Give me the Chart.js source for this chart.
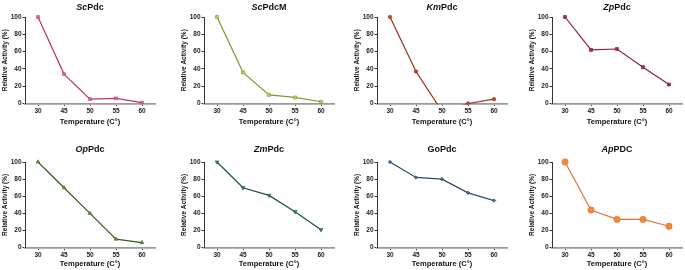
<!DOCTYPE html>
<html>
<head>
<meta charset="utf-8">
<script src="https://cdn.jsdelivr.net/npm/chart.js@4.4.1/dist/chart.umd.min.js"></script>
<style>
    html, body { margin: 0; padding: 0; background: #fff; }
    #wrap { position: relative; width: 685px; height: 270px; overflow: hidden; }
    .panel { position: absolute; }
    .ttl {
        position: absolute;
        width: 130px;
        text-align: center;
        font: bold 9px "Liberation Sans", Arial, sans-serif;
        color: #111;
        white-space: nowrap;
    }
</style>
</head>
<body>
<div id="wrap"></div>
<script>
// 温度类别（x 轴）
const temperatures = ['30', '45', '50', '55', '60'];
const yTicks = [0, 20, 40, 60, 80, 100];

// 各酶相对活性 (%)
const scPdc = [100, 34, 5, 6, 1];
const scPdcM = [100, 36, 10, 7, 2];
const kmPdc = [100, 37, -9, 0, 5];
const zpPdc = [100, 62, 63, 42, 22];
const opPdc = [100, 70, 40, 10, 6];
const zmPdc = [100, 70, 61, 42, 21];
const goPdc = [100, 82, 80, 64, 55];
const apPdc = [100, 44, 33, 33, 25];

// 面板布局与样式
const panels = [
    { title: '<i>Sc</i>Pdc', data: scPdc, axisX: 25, row: 0, line: '#b8336a', fill: '#e56aa0', style: 'rect', r: 2 },
    { title: '<i>Sc</i>PdcM', data: scPdcM, axisX: 204, row: 0, line: '#7d9a2e', fill: '#bccb5e', style: 'rect', r: 2.2 },
    { title: '<i>Km</i>Pdc', data: kmPdc, axisX: 377, row: 0, line: '#9b2f1c', fill: '#c8452a', style: 'circle', r: 1.8 },
    { title: '<i>Zp</i>Pdc', data: zpPdc, axisX: 552, row: 0, line: '#8a1f3f', fill: '#a8284f', style: 'rect', r: 2.2 },
    { title: '<i>Op</i>Pdc', data: opPdc, axisX: 25, row: 1, line: '#3d5a1e', fill: '#6f9a38', style: 'triangle', r: 2.2 },
    { title: '<i>Zm</i>Pdc', data: zmPdc, axisX: 204, row: 1, line: '#1f4f3f', fill: '#2f8a66', style: 'triangle', r: 2.2, rot: 180 },
    { title: 'GoPdc', data: goPdc, axisX: 377, row: 1, line: '#2d4a6b', fill: '#3e6c96', style: 'rectRot', r: 1.8 },
    { title: '<i>Ap</i>PDC', data: apPdc, axisX: 552, row: 1, line: '#e0733a', fill: '#f08a3a', style: 'circle', r: 3.2 }
];

const rows = [
    { top: 0, padTop: 17, height: 126, xh: 22.5, titleY: 2 },
    { top: 135, padTop: 27, height: 133, xh: 20.3, titleY: 144 }
];

const FONT = '"Liberation Sans", Arial, sans-serif';
const Y_W = 24;
const PLOT_W = 130;

const wrap = document.getElementById('wrap');

panels.forEach(function(p) {
    const row = rows[p.row];
    const box = document.createElement('div');
    box.className = 'panel';
    box.style.left = (p.axisX - Y_W) + 'px';
    box.style.top = row.top + 'px';
    box.style.width = (Y_W + PLOT_W + 6) + 'px';
    box.style.height = row.height + 'px';
    const canvas = document.createElement('canvas');
    box.appendChild(canvas);
    wrap.appendChild(box);

    const t = document.createElement('div');
    t.className = 'ttl';
    t.innerHTML = p.title;
    t.style.left = p.axisX + 'px';
    t.style.top = row.titleY + 'px';
    wrap.appendChild(t);

    new Chart(canvas, {
        type: 'line',
        data: {
            labels: temperatures,
            datasets: [{
                data: p.data,
                borderColor: p.line,
                borderWidth: 1.2,
                backgroundColor: p.fill,
                pointBackgroundColor: p.fill,
                pointBorderColor: p.line,
                pointBorderWidth: 0.6,
                pointStyle: p.style,
                pointRotation: p.rot || 0,
                pointRadius: p.r,
                tension: 0,
                clip: { left: 6, top: 6, right: 6, bottom: 1 }
            }]
        },
        options: {
            responsive: true,
            maintainAspectRatio: false,
            animation: false,
            devicePixelRatio: 1,
            layout: { padding: { top: row.padTop, left: 0, right: 6, bottom: 0 } },
            plugins: {
                legend: { display: false },
                tooltip: { enabled: false }
            },
            scales: {
                x: {
                    type: 'category',
                    offset: true,
                    afterFit: function(s) { s.height = row.xh; },
                    border: { display: true, color: '#9a9a9a', width: 1.8 },
                    grid: { display: true, drawOnChartArea: false, drawTicks: true, tickLength: 2.5, offset: false, color: '#444', lineWidth: 1 },
                    ticks: { color: '#222', padding: 1.5, maxRotation: 0, font: { family: FONT, size: 6.5, weight: 'bold' } },
                    title: { display: true, text: 'Temperature (C°)', color: '#111', padding: 0, font: { family: FONT, size: 7.5, weight: 'bold' } }
                },
                y: {
                    min: 0,
                    max: 100,
                    afterFit: function(s) { s.width = Y_W; },
                    afterBuildTicks: function(s) { s.ticks = yTicks.map(function(v) { return { value: v }; }); },
                    border: { display: true, color: '#333', width: 1 },
                    grid: { display: true, drawOnChartArea: false, drawTicks: true, tickLength: 2.5, color: '#333', lineWidth: 1 },
                    ticks: { color: '#222', padding: 1, font: { family: FONT, size: 6.5, weight: 'bold' } },
                    title: { display: true, text: 'Relative Activity (%)', color: '#111', padding: 0, font: { family: FONT, size: 6.5, weight: 'bold' } }
                }
            }
        }
    });
});
</script>
</body>
</html>
